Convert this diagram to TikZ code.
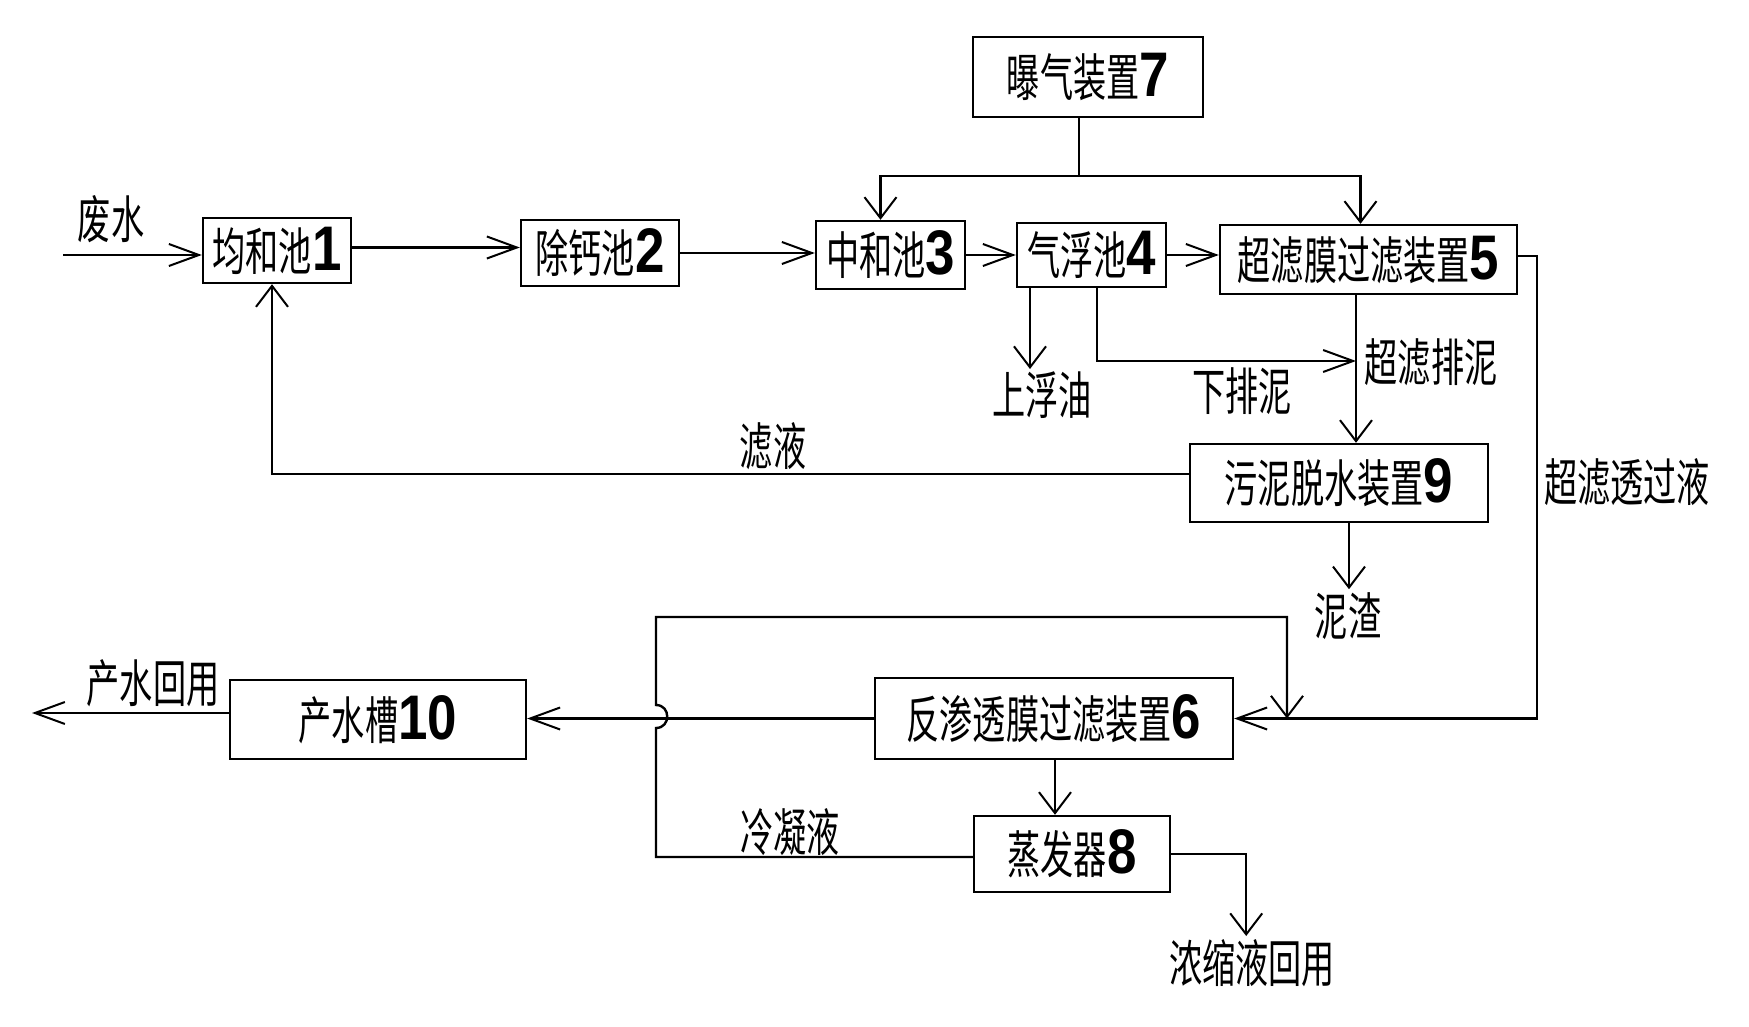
\documentclass[tikz,border=0pt]{standalone}
\usepackage{fontspec}
\usepackage{graphicx}
\newfontfamily\cjk{Noto Sans CJK SC}
\newfontfamily\numf{Liberation Sans}
\usetikzlibrary{arrows.meta}
\newcommand\cn[1]{\scalebox{0.65}[1]{\fontsize{51}{51}\selectfont\cjk #1}}
\newcommand\dg[1]{\scalebox{0.84}[1]{\fontsize{63}{63}\selectfont\numf\bfseries #1}}
\begin{document}
\begin{tikzpicture}[x=1pt,y=-1pt,line width=2.4pt,
  box/.style={draw,rectangle,inner sep=0pt},
  lab/.style={inner sep=0pt},
  arrh/.style={-{Straight Barb[length=30pt,width=22pt,line width=2pt]}},
  arrv/.style={-{Straight Barb[length=21pt,width=32pt,line width=2pt]}}]
\useasboundingbox (0,0) rectangle (1749,1027);

% boxes
\node[box,minimum width=148pt,minimum height=65pt] (n1) at (277,250.5) {\cn{均和池}\dg{1}};
\node[box,minimum width=158pt,minimum height=66pt] (n2) at (600,253) {\cn{除钙池}\dg{2}};
\node[box,minimum width=149pt,minimum height=68pt] (n3) at (890.5,255) {\cn{中和池}\dg{3}};
\node[box,minimum width=149pt,minimum height=64pt] (n4) at (1091.5,255) {\cn{气浮池}\dg{4}};
\node[box,minimum width=297pt,minimum height=69pt] (n5) at (1368.5,259.5) {\cn{超滤膜过滤装置}\dg{5}};
\node[box,minimum width=230pt,minimum height=80pt] (n7) at (1088,77) {\cn{曝气装置}\dg{7}};
\node[box,minimum width=298pt,minimum height=78pt] (n9) at (1339,483) {\cn{污泥脱水装置}\dg{9}};
\node[box,minimum width=296pt,minimum height=79pt] (n10) at (378,719.5) {\cn{产水槽}\dg{10}};
\node[box,minimum width=358pt,minimum height=81pt] (n6) at (1054,718.5) {\cn{反渗透膜过滤装置}\dg{6}};
\node[box,minimum width=196pt,minimum height=76pt] (n8) at (1072,854) {\cn{蒸发器}\dg{8}};

% labels
\node[lab] (tfs) at (111,219) {\cn{废水}};
\node[lab] (tcs) at (153,683) {\cn{产水回用}};
\node[lab] (tyo) at (1042,395) {\cn{上浮油}};
\node[lab] (txp) at (1242,391) {\cn{下排泥}};
\node[lab] (tcp) at (1431,362) {\cn{超滤排泥}};
\node[lab] (tly) at (773,446) {\cn{滤液}};
\node[lab] (tnz) at (1348,616) {\cn{泥渣}};
\node[lab] (ttg) at (1627,482) {\cn{超滤透过液}};
\node[lab] (tln) at (790,832) {\cn{冷凝液}};
\node[lab] (tns) at (1252,963) {\cn{浓缩液回用}};

% free ends and junctions
\coordinate (ww) at (63,255);
\coordinate (j7) at (1079,176);
\coordinate (oil) at (1030,369);
\coordinate (mud) at (1097,361);
\coordinate (ufc) at (1537,256);
\coordinate (byl) at (656,617);
\coordinate (byr) at (1287,617);
\coordinate (out) at (32,713);
\coordinate (fb) at ([xshift=-5pt]n1.south);
\coordinate (fs) at ([yshift=9pt]n9.west);
\coordinate (us) at ([xshift=-12.5pt]n5.south);

% main line
\draw[arrh] (ww) -- (ww -| n1.west);
\draw[arrh] ([yshift=3pt]n1.east) -- ([yshift=3pt]n1.east -| n2.west);
\draw[arrh] (n2.east) -- (n2.east -| n3.west);
\draw[arrh] (n3.east) -- (n3.east -| n4.west);
\draw[arrh] (n4.east) -- (n4.east -| n5.west);

% aeration
\draw ([xshift=-9pt]n7.south) -- (j7);
\draw[arrv] (j7) -| ([xshift=-10pt]n3.north);
\draw[arrv] (j7) -| ([xshift=-8pt]n5.north);

% flotation outputs
\draw[arrv] (oil |- n4.south) -- (oil);
\draw[arrh] (mud |- n4.south) -- (mud) -- (us |- mud);

% UF sludge to dewatering
\draw[arrv] (us) -- (us |- n9.north);

% filtrate back to 1
\draw[arrv] (fs) -- (fs -| fb) -- (fb);

% sludge residue
\draw[arrv] ([xshift=10pt]n9.south) -- ++(0,66);

% UF permeate to RO
\draw[arrh] ([yshift=3.5pt]n5.east) -- (ufc) -- (ufc |- n6.east) -- (n6.east);

% RO to product tank and out
\draw[arrh] (n6.west) -- (n6.west -| n10.east);
\draw[arrh] ([yshift=6.5pt]n10.west) -- (out);

% RO concentrate to evaporator
\draw[arrv] ([xshift=1pt]n6.south) -- ([xshift=1pt]n6.south |- n8.north);

% condensate bypass with hop
\draw[arrv] ([yshift=-3pt]n8.west) -- ([yshift=-3pt]n8.west -| byl) -- (656,728)
  .. controls (671,728) and (671,705) .. (656,705) -- (byl) -- (byr) -- (byr |- n6.east);

% evaporator concentrate
\draw[arrv] (n8.east) -- ++(75,0) -- ++(0,82);
\end{tikzpicture}
\end{document}
